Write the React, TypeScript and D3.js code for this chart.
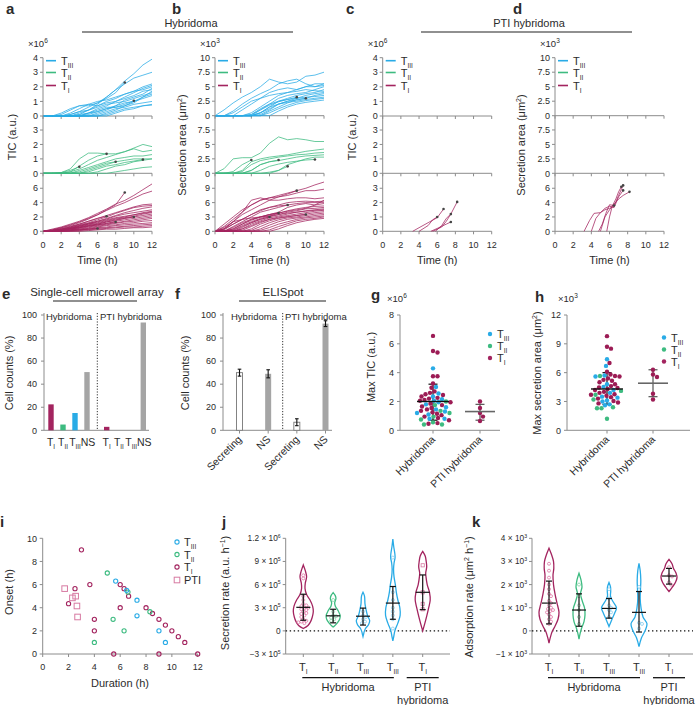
import React, { useEffect, useRef } from "react";
import * as d3 from "d3";

// colours
const C1 = "#a3245f"; // T I
const C2 = "#3dbb80"; // T II
const C3 = "#29abe6"; // T III
const GREY = "#a5a5a5";
const AX = "#8c8c8c";
const INK = "#2b2b2b";
const PTI_SQ = "#d77aa2";
const FONT = "'Liberation Sans', Arial, Helvetica, sans-serif";

// ---------- a: TIC (x10^6), one value per hour; short lines stop early (dot) ----------
const A_T3 = [
  [0, 0, 0, 0.1, 0.3, 0.6, 0.9, 1.3, 1.8, 2.4, 2.9, 3.5, 3.9],
  [0, 0, 0, 0, 0.1, 0.4, 0.8, 1.3, 1.8, 2.2, 2.6, 2.8, 3.0],
  [0, 0, 0.2, 0.5, 0.7, 0.7, 0.9, 1.2, 1.6, 2.3],
  [0, 0, 0, 0.2, 0.5, 0.8, 1.0, 1.1, 1.3, 1.5, 1.7, 2.0, 2.2],
  [0, 0, 0.1, 0.4, 0.7, 0.8, 0.7, 0.9, 1.0, 1.3, 1.6, 1.9, 2.1],
  [0, 0, 0, 0, 0.2, 0.4, 0.7, 1.0, 1.2, 1.5, 1.7, 1.8, 2.0],
  [0, 0, 0, 0, 0, 0.2, 0.5, 0.7, 1.0, 1.2, 1.4, 1.7, 1.8],
  [0, 0, 0, 0.1, 0.3, 0.4, 0.6, 0.8, 0.9, 1.0, 1.2, 1.4, 1.6],
  [0, 0, 0, 0, 0, 0.1, 0.3, 0.5, 0.7, 0.9, 1.0, 1.2, 1.4],
  [0, 0, 0, 0, 0.1, 0.2, 0.3, 0.5, 0.6, 0.8, 1.05],
  [0, 0, 0, 0, 0, 0, 0.1, 0.3, 0.5, 0.6, 0.8, 0.9, 1.0],
  [0, 0, 0, 0, 0, 0, 0, 0.1, 0.3, 0.5, 0.6, 0.7, 0.8],
  [0, 0, 0, 0, 0, 0, 0, 0, 0.2, 0.4, 0.5, 0.7, 0.75],
  [0, 0, 0, 0, 0, 0.2, 0.4, 0.6, 0.6, 0.7, 0.9, 1.3, 1.7],
  [0, 0, 0, 0, 0, 0, 0.2, 0.4, 0.7, 1.1, 1.3, 1.5, 1.9],
  [0, 0, 0, 0, 0, 0, 0, 0.2, 0.4, 0.7, 1.0, 1.3, 1.5],
];
const A_T2 = [
  [0, 0, 0.05, 0.3, 1.0, 1.4, 1.4, 1.35, 1.35, 1.5, 1.75, 2.0, 1.85],
  [0, 0, 0, 0.1, 0.3, 0.6, 0.9, 1.1, 1.3, 1.5, 1.7, 1.5, 1.6],
  [0, 0, 0, 0, 0.2, 0.4, 0.6, 0.8, 1.0, 1.1, 1.2, 1.2, 1.3],
  [0, 0, 0, 0, 0, 0.2, 0.4, 0.6, 0.8, 0.9, 1.0, 1.0, 1.0],
  [0, 0, 0, 0, 0, 0, 0.1, 0.3, 0.5, 0.6, 0.8, 0.9, 1.0],
  [0, 0, 0, 0, 0, 0, 0, 0, 0.1, 0.2, 0.3, 0.4, 0.45],
  [0, 0, 0.05, 0.2, 0.45],
  [0, 0, 0, 0.1, 0.5, 0.9, 1.2, 1.35],
  [0, 0, 0, 0, 0.1, 0.3, 0.5, 0.7, 0.8],
  [0, 0, 0, 0, 0, 0.1, 0.3, 0.5, 0.6, 0.75, 0.85, 0.95],
];
const A_T1 = [
  [0, 0.3, 0.6, 1.0, 1.4, 1.9, 2.5, 3.1, 3.8, 4.3, 5.0, 5.8, 6.6],
  [0, 0.2, 0.5, 0.9, 1.3, 1.8, 2.3, 2.9, 3.5, 4.0, 4.6, 5.2, 5.6],
  [0, 0.2, 0.5, 0.8, 1.2, 1.7, 2.3, 3.0, 3.7, 5.4],
  [0, 0.1, 0.4, 0.7, 1.0, 1.4, 1.8, 2.2, 2.6, 3.0, 3.4, 3.7, 3.8],
  [0, 0.1, 0.3, 0.6, 0.9, 1.2, 1.6, 2.0, 2.5, 2.9, 3.3, 3.5, 3.6],
  [0, 0.1, 0.3, 0.5, 0.8, 1.1, 1.4, 1.7, 2.1, 2.4, 2.6, 2.8, 3.0],
  [0, 0.1, 0.2, 0.4, 0.7, 1.0, 1.3, 1.6, 1.9, 2.1, 2.3, 2.6, 2.8],
  [0, 0.1, 0.2, 0.4, 0.6, 0.9, 1.1, 1.4, 1.7, 1.9, 2.1, 2.4, 2.6],
  [0, 0, 0.2, 0.3, 0.5, 0.8, 1.0, 1.3, 1.5, 1.8, 2.0, 2.2, 2.4],
  [0, 0, 0.1, 0.3, 0.5, 0.7, 0.9, 1.1, 1.4, 1.6, 1.8, 2.0, 2.2],
  [0, 0, 0.1, 0.2, 0.4, 0.6, 0.8, 1.0, 1.2, 1.4, 1.6, 1.8, 2.0],
  [0, 0, 0.1, 0.2, 0.3, 0.5, 0.7, 0.9, 1.1, 1.3, 1.4, 1.6, 1.8],
  [0, 0, 0.1, 0.2, 0.3, 0.4, 0.6, 0.8, 0.9, 1.1, 1.2, 1.4, 1.5],
  [0, 0, 0, 0.1, 0.2, 0.3, 0.5, 0.6, 0.8, 0.9, 1.0, 1.1, 1.2],
  [0, 0, 0, 0.1, 0.2, 0.3, 0.4, 0.5, 0.6, 0.7, 0.8, 0.9, 1.0],
  [0, 0, 0, 0, 0.1, 0.2, 0.3, 0.4, 0.5, 0.6, 0.6, 0.7, 0.8],
  [0, 0, 0, 0, 0, 0.1, 0.2, 0.3, 0.3, 0.4, 0.5, 0.5, 0.6],
  [0, 0.1, 0.3, 0.6, 1.0, 1.4, 1.8, 2.1],
  [0, 0.1, 0.2, 0.4, 0.6, 0.8, 1.0, 1.3, 1.6, 1.8, 2.0],
  [0, 0, 0, 0.1, 0.2, 0.3, 0.4],
  [0, 0.1, 0.2, 0.3, 0.5, 0.7, 0.9, 1.1, 1.3],
  [0, 0.1, 0.3, 0.5, 0.8, 1.1, 1.4, 1.8, 2.2, 2.6, 2.9, 3.2, 3.4],
  [0, 0.1, 0.2, 0.4, 0.7, 1.0, 1.2, 1.5, 1.8, 2.0, 2.3, 2.5, 2.7],
];

// ---------- b: secretion area (x10^3 µm²) ----------
const B_T3 = [
  [0, 1.0, 2.2, 3.2, 4.0, 5.0, 6.3, 5.8, 5.5, 5.8, 6.8, 7.0, 7.5],
  [0, 0, 0.8, 2.0, 3.0, 3.8, 4.5, 5.5, 6.0, 6.3, 5.5, 5.0, 5.5],
  [0, 0, 0, 1.0, 2.0, 3.0, 4.0, 4.5, 4.8, 4.5, 5.0, 5.5, 5.5],
  [0, 0, 0, 0, 0.5, 1.5, 2.5, 3.5, 4.0, 4.5, 5.0, 5.0, 5.2],
  [0, 0, 0, 0, 0, 1.0, 2.0, 3.0, 3.5, 3.8, 4.0, 4.5, 5.0],
  [0, 0, 0, 0, 0, 0.5, 1.5, 2.5, 3.0, 3.5, 3.8, 4.0, 4.5],
  [0, 0, 0, 0, 0, 0.2, 1.0, 2.0, 2.5, 3.0, 3.5, 3.8, 4.0],
  [0, 0, 0, 0, 0, 0, 0.8, 1.5, 2.2, 2.8, 3.0, 3.5, 3.8],
  [0, 0, 0, 0, 0.2, 1.2, 2.0, 2.5, 2.8, 3.0, 3.2, 3.3, 3.5],
  [0, 0, 0, 0, 0, 0.5, 1.2, 2.0, 2.3, 2.5, 2.8, 3.0, 3.2],
  [0, 0, 0, 0, 0, 0, 0.5, 1.2, 1.8, 2.3, 2.6, 2.8, 3.0],
  [0, 0, 0, 0, 0, 0, 0, 0.8, 1.5, 2.0, 2.3, 2.5, 2.7],
  [0, 0, 0, 0, 0.2, 1.0, 1.8, 2.4, 2.8, 3.2],
  [0, 0, 0, 0, 0, 0.5, 1.5, 2.0, 2.5, 2.7, 3.0],
  [0, 0, 0.5, 1.5, 2.5, 3.0, 3.5, 3.8, 4.0, 4.2, 4.5, 4.3, 4.2],
];
const B_T2 = [
  [0, 0.8, 2.5, 2.7, 2.7, 3.5, 5.2, 6.3, 5.8, 6.0, 5.8, 5.5, 5.5],
  [0, 0, 0, 0.5, 2.0, 2.5, 2.8, 3.0, 3.2, 3.5, 3.8, 4.0, 4.2],
  [0, 0, 0, 0.3, 1.5, 2.2, 2.5, 2.8, 3.0, 3.2, 3.3, 3.5, 3.6],
  [0, 0, 0, 0, 0.5, 1.5, 2.0, 2.2, 2.5, 2.8, 3.0, 3.1, 3.2],
  [0, 0, 0, 0, 0, 0, 0, 0.5, 1.5, 2.0, 2.5, 2.8, 2.8],
  [0, 0, 0.3, 1.5, 2.3],
  [0, 0, 0, 0, 0.5, 1.5, 2.0, 2.3],
  [0, 0, 0, 0, 0, 0, 0.2, 0.5, 1.2],
  [0, 0, 0, 0, 0, 0.5, 1.2, 1.6, 1.9, 2.1, 2.3, 2.4],
];
const B_T1 = [
  [0, 1.5, 3.0, 4.5, 5.5, 6.5, 7.0, 7.5, 8.0, 8.5, 9.0, 9.7, 10.3],
  [0, 1.0, 2.5, 4.0, 5.5, 6.5, 7.0, 7.2, 7.5, 8.0, 8.5, 8.5, 8.8],
  [0, 0.5, 2.0, 3.5, 4.5, 5.5, 6.5, 7.2, 7.8, 8.5],
  [0, 0.5, 2.0, 4.0, 6.5, 7.0, 6.5, 6.5, 6.8, 7.0, 7.0, 6.8, 7.0],
  [0, 0.3, 1.5, 2.5, 3.5, 4.5, 5.0, 5.5, 6.0, 6.2, 6.3, 6.2, 6.3],
  [0, 0, 1.0, 2.0, 3.0, 4.0, 4.5, 5.0, 5.5, 5.8, 6.0, 6.0, 6.0],
  [0, 0, 0.5, 1.5, 2.5, 3.0, 3.5, 4.0, 5.0, 5.5, 5.8, 5.5, 5.8],
  [0, 0, 0.3, 1.2, 2.0, 2.7, 3.2, 3.8, 4.3, 4.7, 5.0, 5.2, 5.3],
  [0, 0, 0, 0.8, 1.8, 2.5, 3.0, 3.5, 4.0, 4.3, 4.7, 4.8, 5.0],
  [0, 0, 0, 0.5, 1.5, 2.2, 2.8, 3.2, 3.6, 4.0, 4.3, 4.5, 4.7],
  [0, 0, 0, 0.2, 1.0, 1.8, 2.5, 3.0, 3.3, 3.6, 3.9, 4.2, 4.4],
  [0, 0, 0, 0, 0.5, 1.5, 2.2, 2.7, 3.0, 3.3, 3.6, 3.9, 4.1],
  [0, 0, 0, 0, 0.2, 1.0, 1.8, 2.4, 2.8, 3.0, 3.3, 3.6, 3.8],
  [0, 0, 0, 0, 0, 0.5, 1.3, 2.0, 2.5, 2.8, 3.0, 3.3, 3.5],
  [0, 0, 0, 0, 0, 0.2, 0.8, 1.5, 2.0, 2.5, 2.8, 3.0, 3.2],
  [0, 0, 0, 0, 0, 0, 0.3, 1.0, 1.6, 2.2, 2.5, 2.7, 3.0],
  [0, 0, 0, 0, 0, 0, 0, 0.5, 1.2, 1.8, 2.2, 2.5, 2.7],
  [0, 0.8, 2.0, 2.5, 2.8, 3.0, 3.2, 3.5, 3.8, 4.0, 4.2, 4.4, 4.5],
  [0, 0, 0.8, 1.8, 2.5, 3.0, 3.5, 3.8, 4.2, 4.5, 4.8, 5.5, 6.5],
  [0, 0, 0.2, 1.0, 1.8, 2.5, 3.0],
  [0, 0, 0.5, 1.5, 2.3, 3.0, 3.5, 3.8],
  [0, 0.5, 1.5, 2.5, 3.5, 4.3, 5.0, 5.3, 5.5],
  [0, 0, 0, 0.5, 1.2, 2.0, 2.5, 2.8, 3.1, 3.3, 3.5],
];

// ---------- c, d: PTI hybridoma T I traces, [time h, value] ----------
const C_T1 = [
  [[3.3, 0], [4, 0.25], [5, 0.6], [6, 0.95], [6.7, 1.55]],
  [[4.0, 0], [5, 0.4], [5.5, 0.8], [6, 1.0]],
  [[5.5, 0], [6.5, 0.3], [7, 0.7], [7.5, 1.2], [8.2, 2.05]],
  [[5.8, 0], [6.5, 0.4], [7, 0.9], [7.5, 1.2]],
  [[5.3, 0], [6, 0.2], [6.5, 0.35], [7, 0.5], [7.5, 0.65]],
];
const D_T1 = [
  [[3.2, 0], [3.8, 1.5], [4.3, 2.5], [5, 2.6], [5.5, 3.0], [6, 3.2], [6.5, 3.5], [7, 5.0], [7.5, 6.4]],
  [[4.0, 0], [4.5, 1.8], [5, 2.6], [5.5, 3.2], [6, 3.5], [6.5, 3.3], [7, 4.8], [7.5, 5.7]],
  [[5.0, 0], [5.5, 2.0], [6, 3.0], [6.5, 3.8], [7, 4.5], [7.5, 5.0], [8.2, 5.5]],
  [[5.7, 0], [6, 2.0], [6.3, 3.5], [6.7, 4.5], [7, 5.5], [7.3, 6.2]],
  [[4.8, 0], [5.2, 1.0], [5.6, 2.5], [6, 3.7], [6.5, 3.6]],
];

// ---------- e: single-cell microwell array ----------
const E_CATS = ["I", "II", "III", "NS"];
const E_HYB = [22.5, 5, 15, 50.5];
const E_PTI = [3, 0, 0, 93.5];

// ---------- f: ELISpot ----------
const F_CATS = ["Secreting", "NS", "Secreting", "NS"];
const F_VAL = [50, 49, 7, 92.5];
const F_ERR = [3, 3.5, 3, 2.5];

// ---------- g: max TIC (x10^6) ----------
const G_HYB_T1 = [6.55, 5.5, 5.4, 3.75, 3.75, 3.25, 2.95, 2.7, 2.6, 2.5, 2.45, 2.35, 2.25, 2.2, 2.1, 2.05, 1.95, 1.85, 1.75, 1.65, 1.55, 1.45, 1.35, 1.25, 1.15, 1.05, 0.95, 0.85, 0.7, 0.5, 0.45];
const G_HYB_T2 = [2.0, 1.75, 1.35, 1.2, 0.95, 0.75, 0.55, 0.4, 0.4];
const G_HYB_T3 = [4.3, 3.0, 2.55, 2.35, 2.15, 2.05, 1.95, 1.8, 1.6, 1.45, 1.3, 1.2, 1.1, 0.8, 0.8];
const G_PTI_T1 = [2.0, 1.55, 1.2, 0.95, 0.65];
const G_MEAN = [2.0, 1.3];
const G_SD = [[0.7, 3.2], [0.7, 1.8]];

// ---------- h: max secretion area (x10^3 µm²) ----------
const H_HYB_T1 = [9.8, 8.7, 8.5, 7.0, 6.1, 5.8, 5.65, 5.6, 5.4, 5.25, 5.15, 5.0, 4.8, 4.6, 4.45, 4.4, 4.3, 4.2, 4.0, 3.9, 3.75, 3.7, 3.6, 3.45, 3.3, 3.05, 2.9, 2.8];
const H_HYB_T2 = [5.65, 4.1, 3.7, 3.2, 2.4, 2.3, 2.3, 1.2];
const H_HYB_T3 = [7.4, 6.7, 5.7, 5.6, 4.8, 4.5, 4.2, 3.9, 3.5, 3.4, 3.1, 3.0, 2.7, 2.6];
const H_PTI_T1 = [6.3, 5.8, 5.55, 3.8, 3.2];
const H_MEAN = [4.3, 4.9];
const H_SD = [[2.7, 6.0], [3.5, 6.3]];

// ---------- i: onset vs duration (h) ----------
const I_T1 = [[3.0, 9.0], [6.0, 6.0], [6.3, 5.65], [6.65, 5.0], [3.65, 6.0], [2.5, 5.65], [2.0, 4.35], [6.0, 4.0], [8.0, 4.0], [8.5, 3.5], [9.0, 3.0], [9.5, 2.5], [10.0, 2.0], [10.5, 1.5], [11.0, 1.0], [12.0, 0], [9.0, 0], [5.5, 0], [4.0, 3.0], [4.0, 2.0]];
const I_T2 = [[5.0, 7.0], [6.6, 5.35], [8.3, 3.65], [5.45, 3.0], [6.3, 2.0], [4.0, 1.0]];
const I_T3 = [[5.65, 6.3], [6.5, 5.5], [7.3, 4.65], [7.3, 3.3], [9.0, 2.0], [9.5, 1.0]];
const I_PTI = [[1.7, 5.65], [2.3, 4.85], [2.55, 5.0], [2.65, 4.15], [2.7, 3.2]];

// ---------- j: secretion rate (x10^5 a.u. h^-1) ----------
const J_CATS = ["I", "II", "III", "III", "I"];
const J_TICKS = [-3, 0, 3, 6, 9, 12];
const J_TICK_TXT = [["−3 × 10", "5"], ["0", ""], ["3 × 10", "5"], ["6 × 10", "5"], ["9 × 10", "5"], ["1.2 × 10", "6"]];
// violin outlines: [value, relative density]
const J_VIOLIN = [
  [[0.3, 0], [0.7, 0.47], [1.2, 0.73], [1.8, 0.9], [2.5, 1.0], [3.2, 0.93], [4.0, 0.67], [4.7, 0.33], [5.5, 0.17], [6.2, 0.2], [7.0, 0.33], [7.8, 0.2], [8.55, 0]],
  [[0.5, 0], [0.6, 0.1], [1.0, 0.4], [1.5, 0.65], [2.0, 0.7], [2.6, 0.5], [3.2, 0.22], [3.6, 0.15], [4.2, 0.28], [4.6, 0.2], [4.96, 0]],
  [[-0.75, 0], [-0.5, 0.05], [-0.1, 0.12], [0.3, 0.25], [0.8, 0.55], [1.3, 0.67], [2.0, 0.45], [2.8, 0.3], [3.5, 0.2], [4.5, 0.15], [5.0, 0]],
  [[-1.3, 0], [-0.8, 0.08], [0, 0.2], [1, 0.5], [2, 0.73], [3, 0.7], [4, 0.5], [5, 0.35], [6, 0.25], [7, 0.12], [8, 0.07], [8.8, 0.12], [9.5, 0.22], [10, 0.2], [11, 0.08], [11.9, 0]],
  [[0, 0], [1, 0.22], [2, 0.42], [3, 0.6], [4, 0.75], [5, 0.68], [6, 0.45], [7, 0.33], [7.5, 0.3], [8.3, 0.4], [9, 0.35], [9.7, 0.25], [10.3, 0]],
];
const J_MED = [3.05, 1.95, 1.9, 3.6, 5.0];
const J_LO = [1.38, 1.04, 0.75, 1.5, 2.75];
const J_HI = [4.75, 2.8, 2.95, 5.75, 7.25];
const J_PTS = [
  [7.2, 6.8, 4.5, 4.0, 3.5, 3.3, 3.2, 3.0, 3.0, 2.8, 2.7, 2.5, 2.3, 2.2, 2.0, 1.8, 1.5, 1.3, 1.2, 1.1, 1.0],
  [4.0, 2.5, 2.0, 1.9, 1.7, 1.5, 1.3],
  [2.5, 2.0, 1.8, 1.5, 1.2, 1.0],
  [9.5, 5.0, 4.0, 3.0, 2.5, 2.0, 1.5, 0.3],
  [8.5, 5.0, 3.5, 2.8],
];

// ---------- k: adsorption rate (x10^3 µm² h^-1) ----------
const K_CATS = ["I", "II", "III", "III", "I"];
const K_TICKS = [-1, 0, 1, 2, 3, 4];
const K_TICK_TXT = [["−1 × 10", "3"], ["0", ""], ["1 × 10", "3"], ["2 × 10", "3"], ["3 × 10", "3"], ["4 × 10", "3"]];
const K_VIOLIN = [
  [[-0.53, 0], [-0.3, 0.12], [0, 0.35], [0.2, 0.6], [0.5, 0.9], [0.8, 1.0], [1.2, 0.8], [1.6, 0.6], [2.0, 0.45], [2.4, 0.4], [2.7, 0.48], [3.0, 0.45], [3.3, 0.25], [3.57, 0]],
  [[-0.36, 0], [-0.1, 0.12], [0.1, 0.25], [0.4, 0.5], [0.7, 0.6], [1.0, 0.55], [1.3, 0.32], [1.6, 0.15], [1.9, 0.3], [2.2, 0.2], [2.49, 0]],
  [[0.19, 0], [0.5, 0.3], [0.8, 0.6], [1.0, 0.75], [1.3, 0.35], [1.5, 0.15], [1.7, 0.17], [1.9, 0.15], [2.09, 0]],
  [[-0.68, 0], [-0.3, 0.25], [0, 0.6], [0.3, 0.8], [0.6, 0.4], [1.0, 0.2], [1.4, 0.12], [1.8, 0.15], [2.2, 0.18], [2.6, 0.12], [2.92, 0]],
  [[1.7, 0], [1.9, 0.35], [2.1, 0.65], [2.3, 0.8], [2.5, 0.7], [2.7, 0.45], [2.9, 0.3], [3.09, 0]],
];
const K_MED = [1.2, 0.9, 0.97, 0.8, 2.37];
const K_LO = [0.3, 0.2, 0.55, -0.05, 2.02];
const K_HI = [2.15, 1.6, 1.4, 1.7, 2.7];
const K_PTS = [
  [2.9, 2.6, 2.3, 2.0, 1.8, 1.6, 1.5, 1.3, 1.2, 1.1, 1.0, 0.95, 0.9, 0.85, 0.8, 0.7, 0.6, 0.5, 0.4, 0.3],
  [2.0, 1.5, 1.1, 0.9, 0.6, 0.3],
  [1.8, 1.4, 1.1, 1.0, 0.9, 0.8, 0.6],
  [1.9, 0.35, 0.3, 0.1],
  [2.75, 2.4, 2.35, 2.1, 2.0],
];

const colorOf = (c: string) => (c === "I" ? C1 : c === "II" ? C2 : c === "III" ? C3 : GREY);
const lightOf = (c: string) => (c === "I" ? "#e079a6" : c === "II" ? "#86d3a8" : "#86cdee");

// ---------- helpers ----------
function txt(g, x, y, s, size = 9, anchor = "start", weight = "normal") {
  return g.append("text").attr("x", x).attr("y", y).attr("font-size", size)
    .attr("text-anchor", anchor).attr("font-weight", weight).attr("fill", INK).text(s);
}
function tsub(g, x, y, sub, size = 11, anchor = "start") {
  const t = g.append("text").attr("x", x).attr("y", y).attr("font-size", size)
    .attr("text-anchor", anchor).attr("fill", INK);
  t.append("tspan").text("T");
  t.append("tspan").attr("font-size", size * 0.6).attr("dy", size * 0.3).text(sub);
  return t;
}
function sup(g, x, y, base, exp, size = 9, anchor = "start") {
  const t = g.append("text").attr("x", x).attr("y", y).attr("font-size", size)
    .attr("text-anchor", anchor).attr("fill", INK);
  t.append("tspan").text(base);
  if (exp) t.append("tspan").attr("font-size", size * 0.62).attr("dy", -size * 0.42).text(exp);
  return t;
}
function ln(g, x1, y1, x2, y2, stroke = AX, w = 1) {
  return g.append("line").attr("x1", x1).attr("y1", y1).attr("x2", x2).attr("y2", y2)
    .attr("stroke", stroke).attr("stroke-width", w);
}
function vtitle(g, x, y, size = 11) {
  return g.append("text").attr("transform", `translate(${x},${y}) rotate(-90)`)
    .attr("text-anchor", "middle").attr("font-size", size).attr("fill", INK);
}

// beeswarm offsets (px) for values placed along a y scale
function swarm(vals, y, r) {
  const order = d3.range(vals.length).sort((a, b) => vals[b] - vals[a]);
  const placed = [];
  const out = new Array(vals.length).fill(0);
  order.forEach((i) => {
    const py = y(vals[i]);
    for (let k = 0; k < 400; k++) {
      const off = (k % 2 ? 1 : -1) * Math.ceil(k / 2) * 0.5;
      if (placed.every(([px, qy]) => (px - off) ** 2 + (qy - py) ** 2 >= (2 * r) ** 2)) {
        out[i] = off;
        placed.push([off, py]);
        break;
      }
    }
  });
  return out;
}

// ---------- a-d ----------
function timePanel(svg, o) {
  const g = svg.append("g");
  const x = d3.scaleLinear().domain([0, 12]).range([o.x0, o.x1]);
  const xt = d3.range(0, 13, 2);
  o.subs.forEach((s) => {
    const y = d3.scaleLinear().domain([0, s.max]).range([s.y0, s.y1]);
    ln(g, o.x0, s.y0, o.x1, s.y0);
    xt.forEach((t) => ln(g, x(t), s.y0, x(t), s.y0 + 3));
    s.ticks.forEach((v) => {
      ln(g, o.x0 - 3, y(v), o.x0, y(v));
      txt(g, o.x0 - 5, y(v) + 3.2, String(v), 9, "end");
    });
    const line = d3.line().x((d) => x(d[0])).y((d) => y(d[1]));
    const series = s.lines.map((l) => (typeof l[0] === "number" ? l.map((v, i) => [i, v]) : l));
    series.forEach((p) => {
      g.append("path").attr("d", line(p)).attr("fill", "none").attr("stroke", s.color)
        .attr("stroke-width", 0.85).attr("stroke-opacity", 0.9);
    });
    series.forEach((p) => {
      const e = p[p.length - 1];
      if (e[0] < 12) g.append("circle").attr("cx", x(e[0])).attr("cy", y(e[1])).attr("r", 1.3).attr("fill", "#444");
    });
  });
  ln(g, o.x0, o.subs[2].y0, o.x0, o.subs[0].y1);
  xt.forEach((t) => txt(g, x(t), 248, String(t), 9, "middle"));
  txt(g, (o.x0 + o.x1) / 2, 264, "Time (h)", 11, "middle");
  txt(g, o.letterX, 14, o.letter, 15, "start", "bold");
  const m = g.append("text").attr("x", o.x0 - 15).attr("y", 47).attr("font-size", 9.5).attr("fill", INK);
  m.append("tspan").text("×10");
  m.append("tspan").attr("font-size", 6.5).attr("dy", -4).text(o.exp);
  const vt = vtitle(g, o.titleX, o.titleY);
  vt.append("tspan").text(o.title);
  if (o.title2) {
    vt.append("tspan").attr("font-size", 7).attr("dy", -4).text("2");
    vt.append("tspan").attr("dy", 4).text(")");
  }
  [["III", C3, 60.7], ["II", C2, 72.5], ["I", C1, 85.5]].forEach(([sub, c, yy]) => {
    ln(g, o.x0 + 3, yy, o.x0 + 13, yy, c, 1.6);
    tsub(g, o.x0 + 18, yy + 4, sub, 11);
  });
}

function header(svg, cx, x1, x2, label) {
  txt(svg, cx, 27, label, 11, "middle");
  ln(svg, x1, 32, x2, 32, "#222", 1.2);
}

// ---------- e, f ----------
function panelE(svg) {
  const g = svg.append("g");
  const y = d3.scaleLinear().domain([0, 100]).range([430.3, 315]);
  const xH = d3.scalePoint().domain(E_CATS).range([51, 87]);
  const xP = d3.scalePoint().domain(E_CATS).range([106.7, 143.3]);
  txt(g, 2, 299, "e", 15, "start", "bold");
  txt(g, 97, 296, "Single-cell microwell array", 11.5, "middle");
  ln(g, 53, 301, 137, 301, "#222", 1.2);
  ln(g, 44, 430.3, 44, 313);
  ln(g, 44, 430.3, 149, 430.3);
  y.ticks(5).forEach((v) => {
    ln(g, 41, y(v), 44, y(v));
    txt(g, 37, y(v) + 3.2, String(v), 9, "end");
  });
  vtitle(g, 13, 373).text("Cell counts (%)");
  g.append("line").attr("x1", 97.3).attr("x2", 97.3).attr("y1", 313).attr("y2", 430.3)
    .attr("stroke", "#333").attr("stroke-dasharray", "1.2,1.6");
  txt(g, 46, 320, "Hybridoma", 9.5);
  txt(g, 100, 320, "PTI hybridoma", 9.5);
  [[xH, E_HYB], [xP, E_PTI]].forEach(([xs, vals]) => {
    E_CATS.forEach((c, i) => {
      if (vals[i] > 0) g.append("rect").attr("x", xs(c) - 2.7).attr("width", 5.4)
        .attr("y", y(vals[i])).attr("height", y(0) - y(vals[i])).attr("fill", colorOf(c));
      if (c === "NS") txt(g, xs(c) + 1, 446, "NS", 10.5, "middle");
      else tsub(g, xs(c), 446, c, 10.5, "middle");
    });
  });
}

function panelF(svg) {
  const g = svg.append("g");
  const y = d3.scaleLinear().domain([0, 100]).range([430.3, 315]);
  const x = d3.scalePoint().domain(d3.range(4).map(String)).range([239.5, 325.5]);
  txt(g, 175, 299, "f", 15, "start", "bold");
  txt(g, 283, 296, "ELISpot", 11.5, "middle");
  ln(g, 239, 301, 326, 301, "#222", 1.2);
  ln(g, 223, 430.3, 223, 313);
  ln(g, 223, 430.3, 332, 430.3);
  y.ticks(5).forEach((v) => {
    ln(g, 220, y(v), 223, y(v));
    txt(g, 216, y(v) + 3.2, String(v), 9, "end");
  });
  vtitle(g, 189, 373).text("Cell counts (%)");
  g.append("line").attr("x1", 282.7).attr("x2", 282.7).attr("y1", 313).attr("y2", 430.3)
    .attr("stroke", "#333").attr("stroke-dasharray", "1.2,1.6");
  txt(g, 231, 320, "Hybridoma", 9.5);
  txt(g, 285, 320, "PTI hybridoma", 9.5);
  F_CATS.forEach((c, i) => {
    const cx = x(String(i));
    const ns = c === "NS";
    g.append("rect").attr("x", cx - 3).attr("width", 6).attr("y", y(F_VAL[i]))
      .attr("height", y(0) - y(F_VAL[i])).attr("fill", ns ? GREY : "#fff")
      .attr("stroke", ns ? "none" : "#777").attr("stroke-width", 0.9);
    ln(g, cx, y(F_VAL[i] - F_ERR[i]), cx, y(F_VAL[i] + F_ERR[i]), "#111", 1.1);
    ln(g, cx - 1.8, y(F_VAL[i] + F_ERR[i]), cx + 1.8, y(F_VAL[i] + F_ERR[i]), "#111", 1.1);
    ln(g, cx - 1.8, y(F_VAL[i] - F_ERR[i]), cx + 1.8, y(F_VAL[i] - F_ERR[i]), "#111", 1.1);
    ln(g, cx, 430.3, cx, 433.5);
    g.append("text").attr("transform", `translate(${cx + 3},${440}) rotate(-45)`)
      .attr("text-anchor", "end").attr("font-size", 10.5).attr("fill", INK).text(c);
  });
}

// ---------- g, h ----------
function dotPanel(svg, o) {
  const g = svg.append("g");
  const y = d3.scaleLinear().domain([0, o.max]).range([430.3, 315]);
  const x = d3.scalePoint().domain(["Hybridoma", "PTI hybridoma"]).range(o.xr);
  txt(g, o.letterX, o.letterY, o.letter, 15, "start", "bold");
  const m = g.append("text").attr("x", o.expX).attr("y", 302).attr("font-size", 9.5).attr("fill", INK);
  m.append("tspan").text("×10");
  m.append("tspan").attr("font-size", 6.5).attr("dy", -4).text(o.exp);
  ln(g, o.ax, 430.3, o.ax, 315);
  ln(g, o.ax, 430.3, o.axEnd, 430.3);
  o.ticks.forEach((v) => {
    ln(g, o.ax - 3, y(v), o.ax, y(v));
    txt(g, o.ax - 6, y(v) + 3.2, String(v), 9, "end");
  });
  const vt = vtitle(g, o.titleX, o.titleY);
  vt.append("tspan").text(o.title);
  if (o.title2) {
    vt.append("tspan").attr("font-size", 7).attr("dy", -4).text("2");
    vt.append("tspan").attr("dy", 4).text(")");
  }
  const items = [
    ...o.t3.map((v) => ({ v, c: C3 })),
    ...o.t2.map((v) => ({ v, c: C2 })),
    ...o.t1.map((v) => ({ v, c: "#9c1c55" })),
  ];
  const offH = swarm(items.map((d) => d.v), y, 2.2);
  const offP = swarm(o.pti, y, 2.2);
  ["Hybridoma", "PTI hybridoma"].forEach((k, i) => {
    const cx = x(k);
    ln(g, cx, 430.3, cx, 433.5);
    g.append("text").attr("transform", `translate(${cx + 3},${440}) rotate(-45)`)
      .attr("text-anchor", "end").attr("font-size", 10.5).attr("fill", INK).text(k);
    const col = i === 0 ? "#111" : "#555";
    ln(g, cx, y(o.sd[i][0]), cx, y(o.sd[i][1]), col, 1.2);
    ln(g, cx - 4.5, y(o.sd[i][0]), cx + 4.5, y(o.sd[i][0]), col, 1.2);
    ln(g, cx - 4.5, y(o.sd[i][1]), cx + 4.5, y(o.sd[i][1]), col, 1.2);
  });
  const cH = x("Hybridoma");
  items.forEach((d, i) => g.append("circle").attr("cx", cH + offH[i]).attr("cy", y(d.v)).attr("r", 2.2).attr("fill", d.c));
  const cP = x("PTI hybridoma");
  o.pti.forEach((v, i) => g.append("circle").attr("cx", cP + offP[i]).attr("cy", y(v)).attr("r", 2.2).attr("fill", "#9c1c55"));
  ln(g, cH - 16, y(o.mean[0]), cH + 16, y(o.mean[0]), "#111", 1.4);
  ln(g, cP - 15, y(o.mean[1]), cP + 15, y(o.mean[1]), "#666", 1.6);
  [["III", C3], ["II", C2], ["I", C1]].forEach(([sub, c], i) => {
    const yy = o.legY + i * 12;
    g.append("circle").attr("cx", o.legX).attr("cy", yy).attr("r", 2.2).attr("fill", c);
    tsub(g, o.legX + 7, yy + 4, sub, 11);
  });
}

// ---------- i ----------
function panelI(svg) {
  const g = svg.append("g");
  const x = d3.scaleLinear().domain([0, 12]).range([42.7, 197.7]);
  const y = d3.scaleLinear().domain([0, 10]).range([654, 538.3]);
  txt(g, 0, 527, "i", 15, "start", "bold");
  ln(g, 42.7, 654, 197.7, 654);
  ln(g, 42.7, 654, 42.7, 538.3);
  d3.range(0, 13, 2).forEach((t) => {
    ln(g, x(t), 654, x(t), 657);
    txt(g, x(t), 670, String(t), 9, "middle");
  });
  d3.range(0, 11, 2).forEach((t) => {
    ln(g, 39.7, y(t), 42.7, y(t));
    txt(g, 37, y(t) + 3.2, String(t), 9, "end");
  });
  txt(g, 120, 687, "Duration (h)", 11, "middle");
  vtitle(g, 13, 592).text("Onset (h)");
  [[I_T1, C1], [I_T2, C2], [I_T3, C3]].forEach(([pts, c]) => {
    pts.forEach((d) => g.append("circle").attr("cx", x(d[0])).attr("cy", y(d[1])).attr("r", 2.1)
      .attr("fill", "none").attr("stroke", c).attr("stroke-width", 1.1));
  });
  I_PTI.forEach((d) => g.append("rect").attr("x", x(d[0]) - 2.8).attr("y", y(d[1]) - 2.8)
    .attr("width", 5.6).attr("height", 5.6).attr("fill", "none").attr("stroke", PTI_SQ).attr("stroke-width", 1));
  [["III", C3, 542], ["II", C2, 554.5], ["I", C1, 567]].forEach(([sub, c, yy]) => {
    g.append("circle").attr("cx", 177).attr("cy", yy).attr("r", 2.1).attr("fill", "none").attr("stroke", c).attr("stroke-width", 1.1);
    tsub(g, 184, yy + 4, sub, 11);
  });
  g.append("rect").attr("x", 174.2).attr("y", 577.2).attr("width", 5.6).attr("height", 5.6)
    .attr("fill", "none").attr("stroke", PTI_SQ).attr("stroke-width", 1);
  txt(g, 184, 584, "PTI", 11);
}

// ---------- j, k ----------
function violinPanel(svg, o) {
  const g = svg.append("g");
  const y = d3.scaleLinear().domain([o.ticks[0], o.ticks[o.ticks.length - 1]]).range([654, 538.3]);
  const x = d3.scalePoint().domain(o.cats.map((_, i) => String(i))).range(o.xr);
  txt(g, o.letterX, 527, o.letter, 15, "start", "bold");
  ln(g, o.ax, 654, o.ax, 538.3);
  ln(g, o.ax, 654, o.axEnd, 654);
  o.ticks.forEach((v, i) => {
    ln(g, o.ax - 3, y(v), o.ax, y(v));
    sup(g, o.ax - 5, y(v) + 3, o.tickTxt[i][0], o.tickTxt[i][1], 8.3, "end");
  });
  g.append("line").attr("x1", o.ax).attr("x2", o.axEnd).attr("y1", y(0)).attr("y2", y(0))
    .attr("stroke", "#111").attr("stroke-width", 1.4).attr("stroke-dasharray", "1.4,2.6");
  const vt = vtitle(g, o.titleX, o.titleY);
  vt.append("tspan").text(o.title);
  if (o.sq) vt.append("tspan").attr("font-size", 7).attr("dy", -4).text("2");
  vt.append("tspan").attr("dy", o.sq ? 4 : 0).text(" h");
  vt.append("tspan").attr("font-size", 7).attr("dy", -4).text("−1");
  vt.append("tspan").attr("dy", 4).text(")");

  o.cats.forEach((c, i) => {
    const cx = x(String(i));
    const col = colorOf(c);
    const area = d3.area().y((d) => y(d[0])).x0((d) => cx - d[1] * 10).x1((d) => cx + d[1] * 10)
      .curve(d3.curveCatmullRom);
    g.append("path").attr("d", area(o.violins[i])).attr("fill", "#fff").attr("stroke", col).attr("stroke-width", 1.3);
    const pts = o.pts[i];
    const off = swarm(pts, y, 1.5);
    pts.forEach((v, k) => {
      if (o.squares && i === 4) {
        g.append("rect").attr("x", cx + off[k] - 1.6).attr("y", y(v) - 1.6).attr("width", 3.2).attr("height", 3.2)
          .attr("fill", "none").attr("stroke", PTI_SQ).attr("stroke-width", 0.8);
      } else {
        g.append("circle").attr("cx", cx + off[k]).attr("cy", y(v)).attr("r", 1.5)
          .attr("fill", "none").attr("stroke", lightOf(c)).attr("stroke-width", 0.8);
      }
    });
    ln(g, cx, y(o.lo[i]), cx, y(o.hi[i]), "#111", 1.2);
    ln(g, cx - 3, y(o.lo[i]), cx + 3, y(o.lo[i]), "#111", 1.2);
    ln(g, cx - 3, y(o.hi[i]), cx + 3, y(o.hi[i]), "#111", 1.2);
    ln(g, cx - 7, y(o.med[i]), cx + 7, y(o.med[i]), "#111", 1.2);
    ln(g, cx, 654, cx, 657);
    tsub(g, cx, 671, c, 11, "middle");
  });
  const x0 = x("0"), x3 = x("3"), x4 = x("4");
  ln(g, x0 - 1, 677.7, x3 + 1, 677.7, "#111", 1.3);
  ln(g, x4 - 16, 677.7, x4 + 16, 677.7, "#111", 1.3);
  txt(g, (x0 + x3) / 2, 691, "Hybridoma", 11, "middle");
  txt(g, x4, 691, "PTI", 11, "middle");
  txt(g, x4, 704, "hybridoma", 11, "middle");
}

function draw(svg) {
  header(svg, 191, 82, 293, "Hybridoma");
  header(svg, 529, 421, 632, "PTI hybridoma");
  timePanel(svg, {
    x0: 43, x1: 152, letter: "a", letterX: 6, exp: "6", title: "TIC (a.u.)", titleX: 16, titleY: 137,
    subs: [
      { y0: 116, y1: 57.7, max: 4, ticks: [0, 1, 2, 3, 4], lines: A_T3, color: C3 },
      { y0: 173.3, y1: 115.6, max: 4, ticks: [0, 1, 2, 3], lines: A_T2, color: C2 },
      { y0: 231.3, y1: 173.9, max: 8, ticks: [0, 2, 4, 6], lines: A_T1, color: C1 },
    ],
  });
  timePanel(svg, {
    x0: 215, x1: 324, letter: "b", letterX: 172, exp: "3", title: "Secretion area (μm", title2: true, titleX: 186, titleY: 145,
    subs: [
      { y0: 115.7, y1: 57.7, max: 10, ticks: [0, 2.5, 5, 7.5, 10], lines: B_T3, color: C3 },
      { y0: 173.3, y1: 115.5, max: 10, ticks: [0, 2.5, 5, 7.5], lines: B_T2, color: C2 },
      { y0: 231.3, y1: 173.9, max: 12, ticks: [0, 3, 6, 9], lines: B_T1, color: C1 },
    ],
  });
  timePanel(svg, {
    x0: 382.7, x1: 491.7, letter: "c", letterX: 346, exp: "6", title: "TIC (a.u.)", titleX: 356, titleY: 137,
    subs: [
      { y0: 116, y1: 57.7, max: 4, ticks: [0, 1, 2, 3, 4], lines: [], color: C3 },
      { y0: 173.3, y1: 115.6, max: 4, ticks: [0, 1, 2, 3], lines: [], color: C2 },
      { y0: 231.3, y1: 173.9, max: 4, ticks: [0, 1, 2, 3], lines: C_T1, color: C1 },
    ],
  });
  timePanel(svg, {
    x0: 555, x1: 664, letter: "d", letterX: 513, exp: "3", title: "Secretion area (μm", title2: true, titleX: 525, titleY: 145,
    subs: [
      { y0: 115.7, y1: 57.7, max: 10, ticks: [0, 2.5, 5, 7.5, 10], lines: [], color: C3 },
      { y0: 173.3, y1: 115.5, max: 10, ticks: [0, 2.5, 5, 7.5], lines: [], color: C2 },
      { y0: 231.3, y1: 173.9, max: 8, ticks: [0, 2, 4, 6], lines: D_T1, color: C1 },
    ],
  });
  panelE(svg);
  panelF(svg);
  dotPanel(svg, {
    letter: "g", letterX: 371, letterY: 300, exp: "6", expX: 387, max: 8, ticks: [0, 2, 4, 6, 8], ax: 400, axEnd: 500,
    xr: [433, 480], title: "Max TIC (a.u.)", titleX: 375, titleY: 367, t1: G_HYB_T1, t2: G_HYB_T2, t3: G_HYB_T3,
    pti: G_PTI_T1, mean: G_MEAN, sd: G_SD, legX: 490, legY: 334,
  });
  dotPanel(svg, {
    letter: "h", letterX: 535, letterY: 302, exp: "3", expX: 558, max: 12, ticks: [0, 3, 6, 9, 12], ax: 567, axEnd: 690,
    xr: [607, 653], title: "Max secretion area (μm", title2: true, titleX: 541, titleY: 373, t1: H_HYB_T1, t2: H_HYB_T2,
    t3: H_HYB_T3, pti: H_PTI_T1, mean: H_MEAN, sd: H_SD, legX: 664, legY: 337.5,
  });
  panelI(svg);
  violinPanel(svg, {
    letter: "j", letterX: 222, cats: J_CATS, ticks: J_TICKS, tickTxt: J_TICK_TXT, ax: 285.7, axEnd: 450,
    xr: [303.3, 422.7], title: "Secretion rate (a.u.", titleX: 229, titleY: 593, violins: J_VIOLIN,
    med: J_MED, lo: J_LO, hi: J_HI, pts: J_PTS, squares: true,
  });
  violinPanel(svg, {
    letter: "k", letterX: 472, cats: K_CATS, ticks: K_TICKS, tickTxt: K_TICK_TXT, ax: 532, axEnd: 693,
    xr: [549, 669], title: "Adsorption rate (μm", sq: true, titleX: 473, titleY: 597, violins: K_VIOLIN,
    med: K_MED, lo: K_LO, hi: K_HI, pts: K_PTS,
  });
}

export default function App() {
  const ref = useRef<SVGSVGElement>(null);
  useEffect(() => {
    const svg = d3.select(ref.current);
    svg.selectAll("*").remove();
    draw(svg);
  }, []);
  return (
    <svg
      ref={ref}
      width={696}
      height={705}
      style={{ position: "absolute", left: 0, top: 0, background: "#fff", fontFamily: FONT }}
    />
  );
}
